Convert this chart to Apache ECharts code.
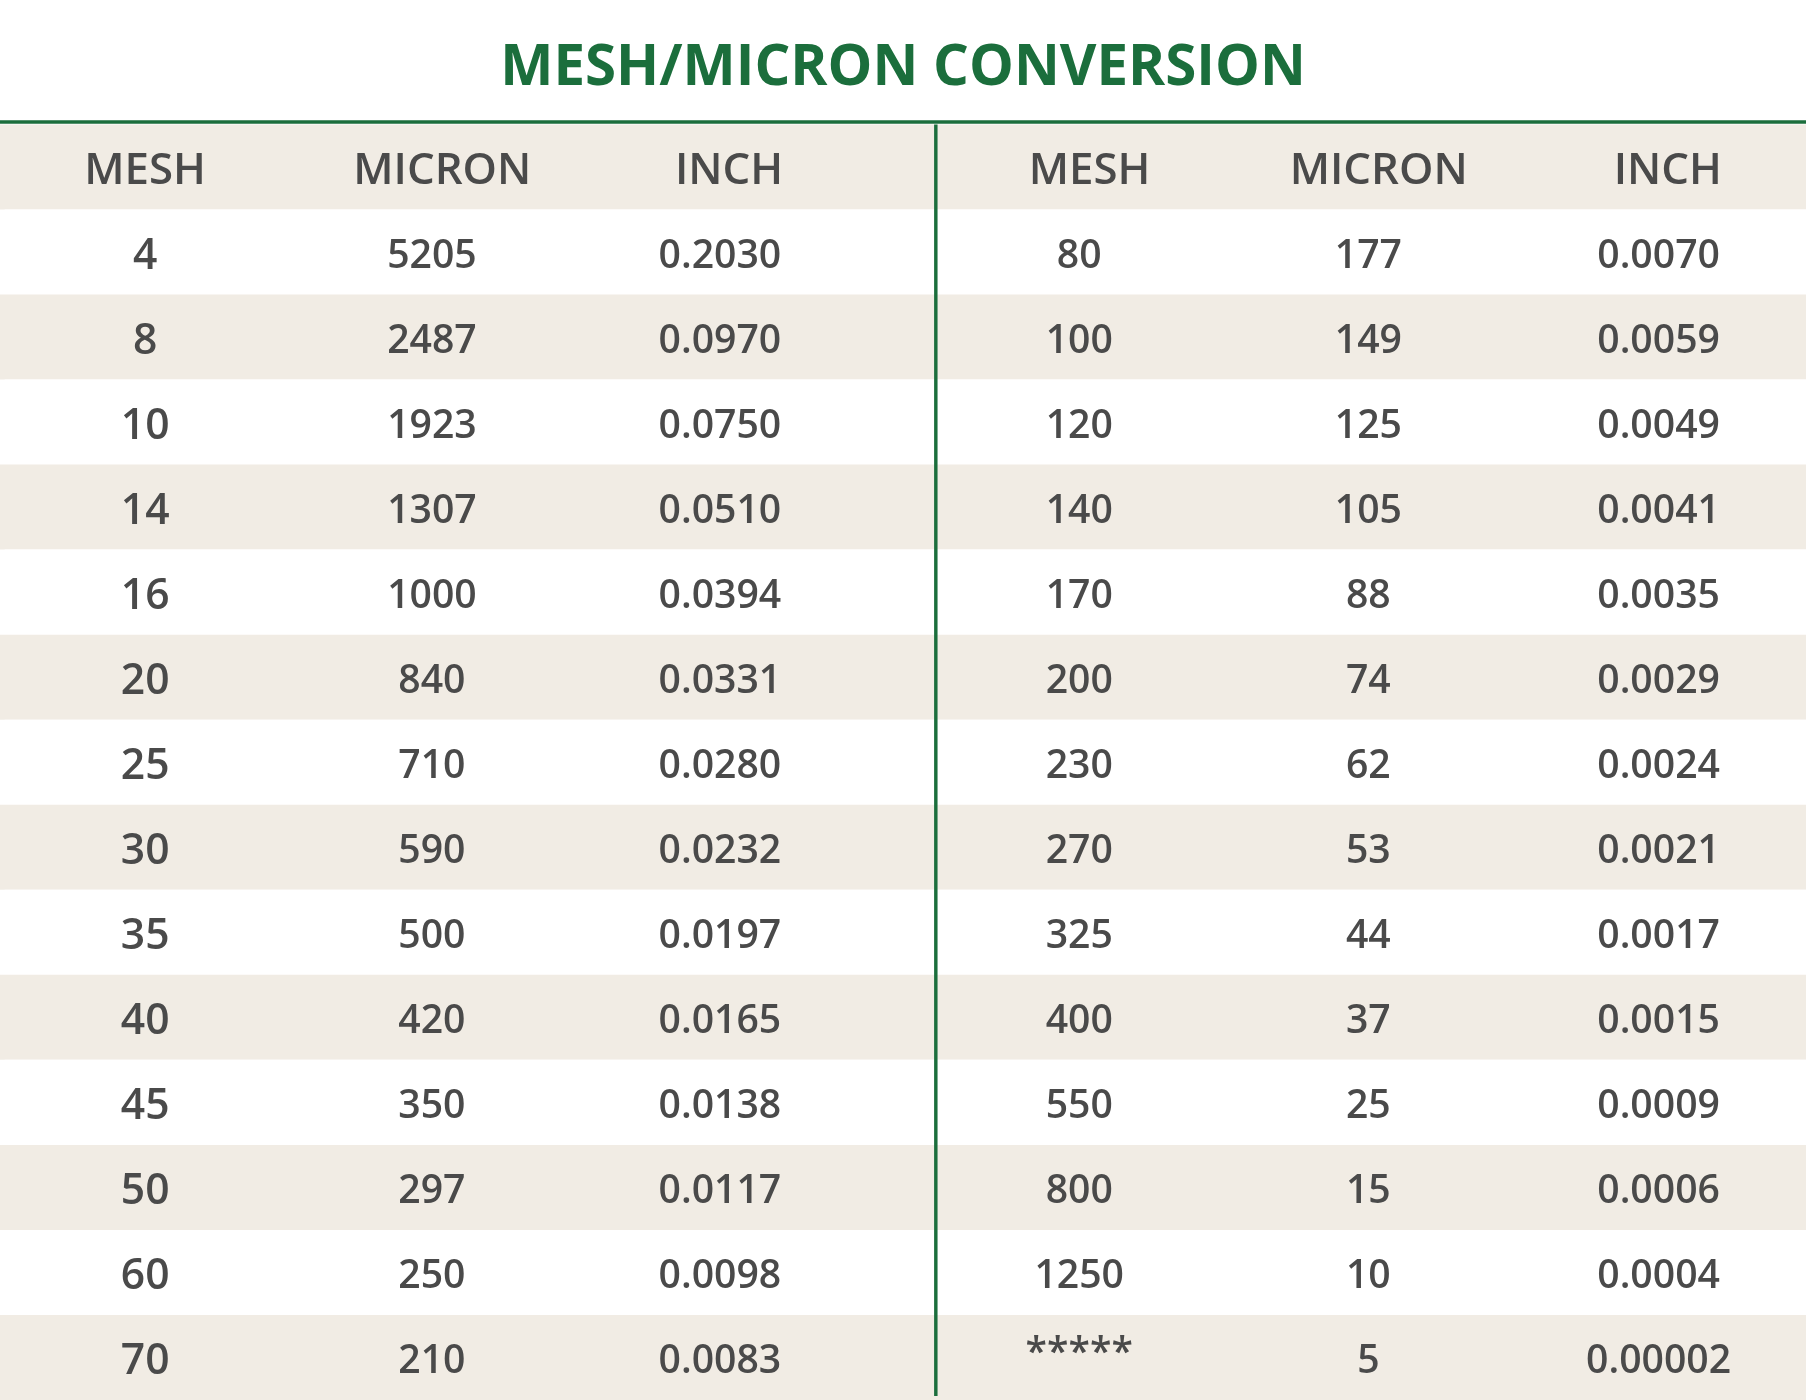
<!DOCTYPE html>
<html>
<head>
<meta charset="utf-8">
<script src="https://cdn.jsdelivr.net/npm/echarts@6/dist/echarts.min.js"></script>
<style>html,body{margin:0;padding:0;background:#fff}#chart{width:1806px;height:1400px}</style>
</head>
<body>
<div id="chart"></div>
<script>
var S = 1806 / 1568; // reference was measured at 1568 wide
var title = 'MESH/MICRON CONVERSION';
var headers = ['MESH', 'MICRON', 'INCH', 'MESH', 'MICRON', 'INCH'];
var meshLeft = ['4', '8', '10', '14', '16', '20', '25', '30', '35', '40', '45', '50', '60', '70'];
var micronLeft = ['5205', '2487', '1923', '1307', '1000', '840', '710', '590', '500', '420', '350', '297', '250', '210'];
var inchLeft = ['0.2030', '0.0970', '0.0750', '0.0510', '0.0394', '0.0331', '0.0280', '0.0232', '0.0197', '0.0165', '0.0138', '0.0117', '0.0098', '0.0083'];
var meshRight = ['80', '100', '120', '140', '170', '200', '230', '270', '325', '400', '550', '800', '1250', '*****'];
var micronRight = ['177', '149', '125', '105', '88', '74', '62', '53', '44', '37', '25', '15', '10', '5'];
var inchRight = ['0.0070', '0.0059', '0.0049', '0.0041', '0.0035', '0.0029', '0.0024', '0.0021', '0.0017', '0.0015', '0.0009', '0.0006', '0.0004', '0.00002'];

var columns = [meshLeft, micronLeft, inchLeft, meshRight, micronRight, inchRight];
var rowNames = ['header'].concat(meshLeft.map(function (v, i) { return 'r' + i; }));
// column centres in reference pixels
var colX = [126, 375, 625, 937, 1188, 1440];
var headX = [126, 384, 633, 946, 1197, 1448];

var cells = [];
headers.forEach(function (h, c) { cells.push([c, 0, h]); });
columns.forEach(function (col, c) {
  col.forEach(function (v, r) { cells.push([c, r + 1, v]); });
});

var chart = echarts.init(document.getElementById('chart'));
chart.setOption({
  backgroundColor: '#ffffff',
  animation: false,
  title: {
    text: title, left: 'center', top: 31 * S,
    textStyle: { color: '#1b6e3c', fontSize: 49 * S, fontWeight: 'bold', fontFamily: 'Open Sans' }
  },
  grid: { left: 0, right: 0, top: 108 * S, height: (1216 - 108) * S },
  xAxis: { type: 'value', min: 0, max: 1568, show: false },
  yAxis: { type: 'category', data: rowNames, inverse: true, show: false },
  series: [{
    type: 'custom',
    data: rowNames.map(function (n, i) { return [0, i]; }),
    renderItem: function (params, api) {
      var y = api.coord([0, api.value(1)])[1];
      var h = api.size([0, 1])[1];
      var idx = api.value(1);
      var white = idx % 2 === 1;
      return {
        type: 'rect',
        shape: { x: white ? 4 * S : 0, y: y - h / 2, width: 1568 * S, height: h },
        style: { fill: white ? '#ffffff' : '#f1ece4' }
      };
    },
    z: 1
  }, {
    type: 'custom',
    data: cells,
    renderItem: function (params, api) {
      var c = api.value(0), r = api.value(1);
      var p = api.coord([(r === 0 ? headX : colX)[c], r]);
      var txt = cells[params.dataIndex][2];
      var size = r === 0 ? 38 : (c === 0 ? 37 : 34);
      return {
        type: 'text',
        x: p[0], y: p[1] + (txt === '*****' ? -3 * S : 4 * S),
        style: {
          text: txt, align: 'center', verticalAlign: 'middle',
          fill: '#4a4a4a', fontSize: size * S, fontWeight: 600, fontFamily: 'Open Sans'
        }
      };
    },
    z: 3
  }],
  graphic: [{
    type: 'rect', shape: { x: 0, y: 104.5 * S, width: 1568 * S, height: 3 * S },
    style: { fill: '#1b6e3c' }, z: 10
  }, {
    type: 'rect', shape: { x: 811 * S, y: 108 * S, width: 3 * S, height: 1104 * S },
    style: { fill: '#1b6e3c' }, z: 10
  }]
});
</script>
</body>
</html>
